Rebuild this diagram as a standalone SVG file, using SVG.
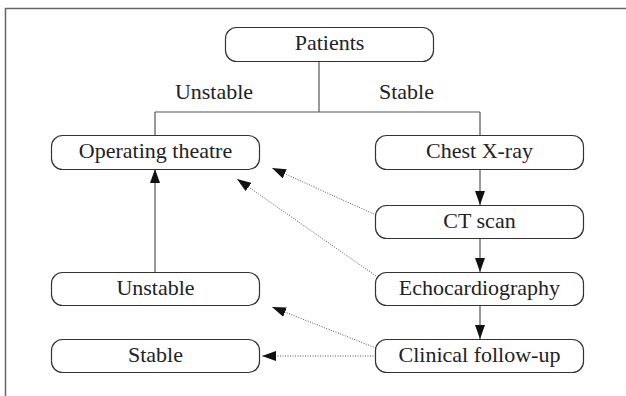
<svg xmlns="http://www.w3.org/2000/svg" width="626" height="396" viewBox="0 0 626 396">
<defs>
<style>
.box{fill:#fff;stroke:#333;stroke-width:1.2}
.t{font-family:"Liberation Serif","Times New Roman",serif;font-size:22px;fill:#222;text-anchor:middle}
.ln{fill:none;stroke:#555;stroke-width:1.2}
.dot{fill:none;stroke:#555;stroke-width:1;stroke-dasharray:1 1.5}
</style>
<marker id="ah" viewBox="0 0 14 10" refX="14" refY="5" markerWidth="14" markerHeight="10" markerUnits="userSpaceOnUse" orient="auto">
<path d="M0,0 L14,5 L0,10 z" fill="#111"/>
</marker>
</defs>
<rect width="626" height="396" fill="#fff"/>
<path d="M5.5,396 V8.5 H626" fill="none" stroke="#666" stroke-width="1.5"/>
<g id="connectors">
<path class="ln" d="M319,61 V112 M155,112 H480 M155,112 V135 M480,112 V135"/>
<path class="ln" d="M480,169 V205" marker-end="url(#ah)"/>
<path class="ln" d="M480,238 V272" marker-end="url(#ah)"/>
<path class="ln" d="M480,305 V339" marker-end="url(#ah)"/>
<path class="ln" d="M155,272 V169" marker-end="url(#ah)"/>
<path class="dot" d="M376,215 L272,168" marker-end="url(#ah)"/>
<path class="dot" d="M376,276 L237,179" marker-end="url(#ah)"/>
<path class="dot" d="M376,348 L272,307" marker-end="url(#ah)"/>
<path class="dot" d="M376,356 L262,356" marker-end="url(#ah)"/>
</g>
<g id="patients"><rect class="box" x="225.5" y="27.5" width="208" height="34" rx="11"/><text class="t" x="329.5" y="50">Patients</text></g>
<text class="t" x="214" y="98.5">Unstable</text>
<text class="t" x="406.5" y="98.5">Stable</text>
<g id="operating"><rect class="box" x="51.5" y="135.5" width="208" height="34" rx="11"/><text class="t" x="155.5" y="157.5">Operating theatre</text></g>
<g id="chest"><rect class="box" x="375.5" y="135.5" width="208" height="34" rx="11"/><text class="t" x="479.5" y="157.5">Chest X-ray</text></g>
<g id="ct"><rect class="box" x="375.5" y="205.5" width="208" height="33" rx="11"/><text class="t" x="479.5" y="227.5">CT scan</text></g>
<g id="unstable"><rect class="box" x="51.5" y="272.5" width="208" height="33" rx="11"/><text class="t" x="155.5" y="294.5">Unstable</text></g>
<g id="echo"><rect class="box" x="375.5" y="272.5" width="208" height="33" rx="11"/><text class="t" x="479.5" y="294.5">Echocardiography</text></g>
<g id="stable"><rect class="box" x="51.5" y="339.5" width="208" height="33" rx="11"/><text class="t" x="155.5" y="361.5">Stable</text></g>
<g id="clinical"><rect class="box" x="375.5" y="339.5" width="208" height="33" rx="11"/><text class="t" x="479.5" y="361.5">Clinical follow-up</text></g>
</svg>
